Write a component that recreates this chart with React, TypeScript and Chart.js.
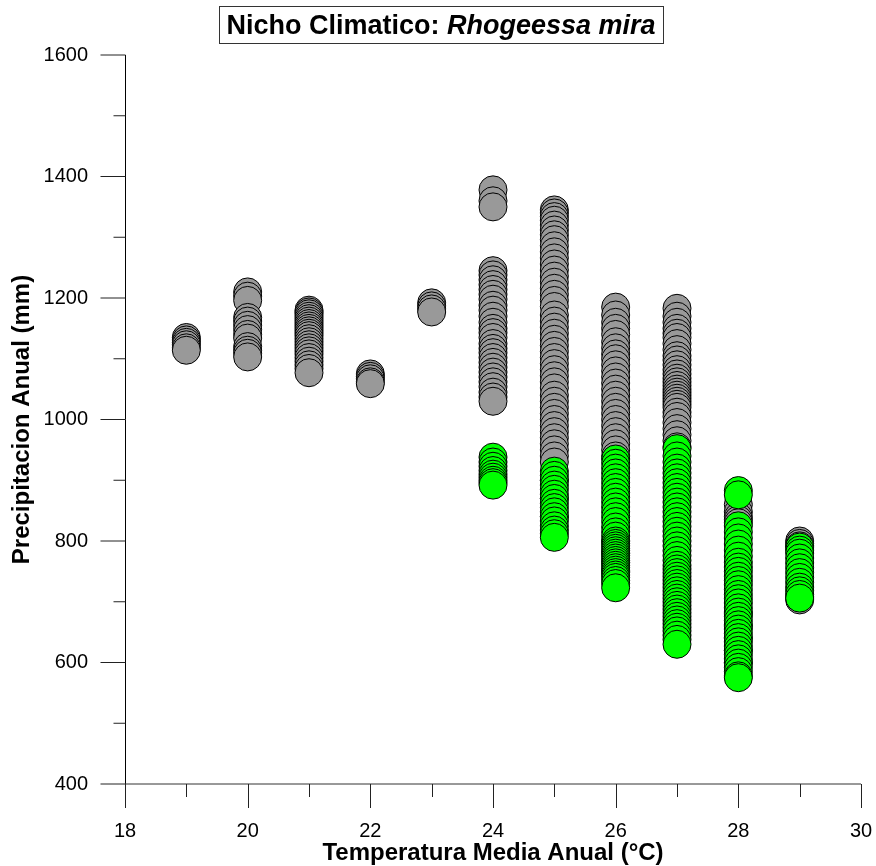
import { useEffect, useRef } from "react";
import { Chart, registerables } from "chart.js";

Chart.register(...registerables);

const FONT = "'Liberation Sans', Arial, Helvetica, sans-serif";

const titleMain = "Nicho Climatico: ";
const titleSpecies = "Rhogeessa mira";
const xTitle = "Temperatura Media Anual (°C)";
const yTitle = "Precipitacion Anual (mm)";

const xTicks = [18, 20, 22, 24, 26, 28, 30];
const xMinorTicks = [19, 21, 23, 25, 27, 29];
const yTicks = [400, 600, 800, 1000, 1200, 1400, 1600];
const yMinorTicks = [500, 700, 900, 1100, 1300, 1500];

const grayTemps = [19, 20, 21, 22, 23, 24, 25, 26, 27, 28, 29];
const grayValues = [
  [1135, 1131, 1127, 1123, 1118, 1114],
  [1210, 1203, 1196, 1168, 1162, 1155, 1148, 1140, 1134, 1120, 1114, 1109, 1103],
  [1180, 1177, 1174, 1170, 1166, 1162, 1158, 1154, 1150, 1146, 1142, 1138, 1133, 1128, 1123, 1118, 1113, 1108, 1102, 1096, 1090, 1084, 1077],
  [1075, 1071, 1067, 1062, 1059],
  [1192, 1187, 1182, 1177],
  [1378, 1360, 1350, 1245, 1238, 1230, 1222, 1214, 1206, 1198, 1188, 1180, 1170, 1160, 1150, 1143, 1135, 1125, 1117, 1110, 1102, 1094, 1086, 1078, 1070, 1062, 1054, 1045, 1037, 1030],
  [1345, 1340, 1334, 1328, 1320, 1312, 1304, 1296, 1286, 1276, 1266, 1256, 1246, 1236, 1226, 1216, 1206, 1196, 1186, 1172, 1162, 1152, 1142, 1132, 1122, 1112, 1102, 1092, 1082, 1072, 1062, 1052, 1040, 1030, 1020, 1010, 1000, 990, 980, 970, 960, 950, 940, 930, 900, 870, 840],
  [1185, 1172, 1160, 1150, 1140, 1128, 1118, 1108, 1100, 1090, 1080, 1070, 1060, 1050, 1040, 1030, 1020, 1010, 1000, 990, 980, 970, 960, 950, 940, 800, 780, 765, 750],
  [1183, 1170, 1160, 1150, 1142, 1135, 1125, 1115, 1105, 1098, 1090, 1082, 1075, 1068, 1062, 1056, 1050, 1045, 1040, 1035, 1030, 1025, 1020, 1012, 1005, 995, 985, 975, 965, 955],
  [860, 848, 840, 835, 830, 680, 660, 640, 620, 600],
  [800, 796, 792, 708, 703],
];

const greenTemps = [24, 25, 26, 27, 28, 29];
const greenValues = [
  [938, 930, 923, 916, 910, 905, 900, 896, 892],
  [915, 908, 900, 892, 885, 877, 870, 862, 855, 848, 840, 833, 825, 818, 812, 806],
  [935, 928, 920, 912, 904, 896, 888, 880, 872, 864, 856, 848, 840, 832, 823, 815, 808, 800, 796, 792, 788, 784, 780, 776, 772, 768, 764, 760, 756, 752, 748, 744, 740, 735, 730, 723],
  [952, 940, 930, 920, 912, 904, 896, 888, 880, 872, 864, 856, 848, 840, 832, 824, 816, 808, 800, 792, 784, 776, 768, 760, 754, 748, 742, 736, 730, 724, 718, 712, 706, 700, 694, 688, 682, 676, 670, 664, 658, 652, 645, 638, 630],
  [883, 876, 825, 815, 805, 795, 785, 775, 765, 757, 750, 742, 735, 728, 720, 712, 705, 698, 690, 683, 676, 669, 662, 655, 648, 641, 634, 627, 620, 613, 606, 599, 592, 585, 578, 575],
  [790, 785, 780, 772, 764, 756, 748, 740, 732, 724, 718, 712, 706],
];

function toPoints(temps: number[], values: number[][]) {
  const pts: { x: number; y: number }[] = [];
  temps.forEach((t, i) => values[i].forEach((v) => pts.push({ x: t, y: v })));
  return pts;
}

const axesPlugin = {
  id: "customAxes",
  afterDraw(chart: any) {
    const { ctx, chartArea } = chart;
    const x = chart.scales.x;
    const y = chart.scales.y;
    ctx.save();
    ctx.strokeStyle = "#000";
    ctx.lineWidth = 1;
    // left axis
    const lx = Math.round(chartArea.left) + 0.5;
    ctx.beginPath();
    ctx.moveTo(lx, chartArea.top);
    ctx.lineTo(lx, chartArea.bottom);
    ctx.stroke();
    // bottom axis
    const by = chartArea.bottom;
    ctx.strokeStyle = "#333";
    ctx.beginPath();
    ctx.moveTo(chartArea.left, by);
    ctx.lineTo(chartArea.right, by);
    ctx.stroke();
    ctx.strokeStyle = "#222";
    // y ticks
    yTicks.forEach((v) => {
      const py = y.getPixelForValue(v);
      ctx.beginPath();
      ctx.moveTo(lx - 25, py);
      ctx.lineTo(lx, py);
      ctx.stroke();
    });
    yMinorTicks.forEach((v) => {
      const py = y.getPixelForValue(v);
      ctx.beginPath();
      ctx.moveTo(lx - 12, py);
      ctx.lineTo(lx, py);
      ctx.stroke();
    });
    xTicks.forEach((v) => {
      const px = Math.round(x.getPixelForValue(v)) + 0.5;
      ctx.beginPath();
      ctx.moveTo(px, by);
      ctx.lineTo(px, by + 24);
      ctx.stroke();
    });
    xMinorTicks.forEach((v) => {
      const px = Math.round(x.getPixelForValue(v)) + 0.5;
      ctx.beginPath();
      ctx.moveTo(px, by);
      ctx.lineTo(px, by + 13);
      ctx.stroke();
    });

    // title box
    const size = 27;
    ctx.font = `bold ${size}px ${FONT}`;
    const w1 = ctx.measureText(titleMain).width;
    ctx.font = `italic bold ${size}px ${FONT}`;
    const w2 = ctx.measureText(titleSpecies).width;
    const total = w1 + w2;
    const cx = 441;
    const boxL = Math.round(cx - total / 2 - 7) + 0.5;
    const boxR = Math.round(cx + total / 2 + 7) + 0.5;
    ctx.fillStyle = "#fff";
    ctx.fillRect(boxL, 6.5, boxR - boxL, 37);
    ctx.strokeStyle = "#333";
    ctx.strokeRect(boxL, 6.5, boxR - boxL, 37);
    ctx.fillStyle = "#000";
    ctx.textBaseline = "alphabetic";
    ctx.textAlign = "left";
    const tx = cx - total / 2;
    ctx.font = `bold ${size}px ${FONT}`;
    ctx.fillText(titleMain, tx, 34);
    ctx.font = `italic bold ${size}px ${FONT}`;
    ctx.fillText(titleSpecies, tx + w1, 34);
    ctx.restore();
  },
};

export default function App() {
  const ref = useRef<HTMLCanvasElement | null>(null);
  useEffect(() => {
    document.body.style.margin = "0";
    const canvas = ref.current;
    if (!canvas) return;
    const chart = new Chart(canvas, {
      type: "scatter",
      data: {
        datasets: [
          {
            label: "green",
            data: toPoints(greenTemps, greenValues),
            backgroundColor: "#00ff00",
            borderColor: "#000",
            borderWidth: 1,
            pointRadius: 14,
            pointHoverRadius: 14,
          },
          {
            label: "gray",
            data: toPoints(grayTemps, grayValues),
            backgroundColor: "#999999",
            borderColor: "#000",
            borderWidth: 1,
            pointRadius: 14,
            pointHoverRadius: 14,
          },
        ],
      },
      options: {
        animation: false,
        responsive: false,
        events: [],
        layout: { padding: { top: 55, right: 15, left: 0, bottom: 0 } },
        plugins: {
          legend: { display: false },
          tooltip: { enabled: false },
          title: { display: false },
        },
        scales: {
          x: {
            type: "linear",
            min: 18,
            max: 30,
            afterBuildTicks: (s: any) => {
              s.ticks = xTicks.map((v) => ({ value: v }));
            },
            afterFit: (s: any) => {
              s.height = 82;
              s.paddingLeft = 0;
              s.paddingRight = 0;
            },
            grid: { display: false, drawTicks: false, tickLength: 0 },
            border: { display: false },
            ticks: {
              color: "#000",
              font: { size: 20, family: FONT },
              padding: 35,
              maxRotation: 0,
              autoSkip: false,
              callback: (v: any) => String(v),
            },
            title: {
              display: true,
              text: xTitle,
              color: "#000",
              font: { size: 24, weight: "bold", family: FONT },
              padding: { top: 0, bottom: -2 },
            },
          },
          y: {
            type: "linear",
            min: 400,
            max: 1600,
            afterBuildTicks: (s: any) => {
              s.ticks = yTicks.map((v) => ({ value: v }));
            },
            afterFit: (s: any) => {
              s.width = 125;
            },
            grid: { display: false, drawTicks: false, tickLength: 0 },
            border: { display: false },
            ticks: {
              color: "#000",
              font: { size: 20, family: FONT },
              padding: 37,
              autoSkip: false,
              callback: (v: any) => String(v),
            },
            title: {
              display: true,
              text: yTitle,
              color: "#000",
              font: { size: 24, weight: "bold", family: FONT },
              padding: { top: 8, bottom: 0 },
            },
          },
        },
      },
      plugins: [axesPlugin],
    });
    return () => chart.destroy();
  }, []);
  return <canvas ref={ref} width={876} height={866} style={{ display: "block" }} />;
}
